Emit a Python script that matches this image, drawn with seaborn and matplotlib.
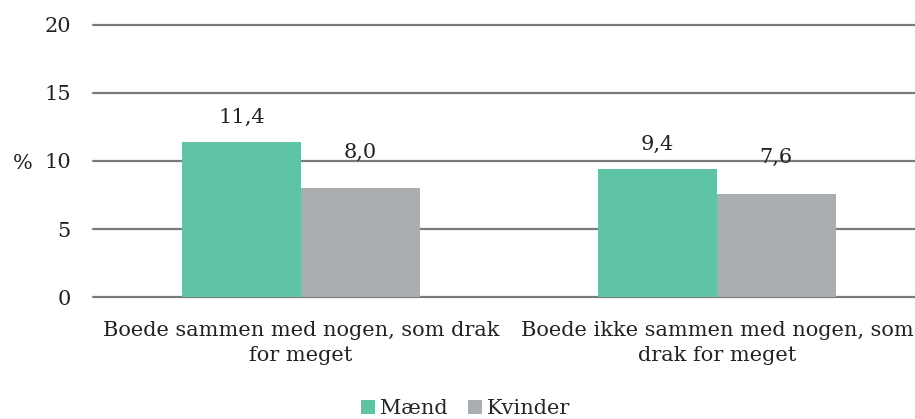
import pandas as pd
import matplotlib.pyplot as plt
import seaborn as sns

categories = ['Boede sammen med nogen, som drak\nfor meget',
              'Boede ikke sammen med nogen, som\ndrak for meget']
maend = [11.4, 9.4]
kvinder = [8.0, 7.6]
series = ['Mænd', 'Kvinder']
colors = ['#5ec4a5', '#abaeb1']

df = pd.DataFrame({
    'kategori': categories * 2,
    'køn': [series[0]] * 2 + [series[1]] * 2,
    'pct': maend + kvinder,
})

sns.set_style('white')
plt.rcParams['font.family'] = ['DejaVu Serif']

fig = plt.figure(figsize=(9.15, 4.19), dpi=100)
ax = fig.add_axes([93 / 915, 122 / 419, 832 / 915, 272 / 419])

sns.barplot(data=df, x='kategori', y='pct', hue='køn', palette=colors,
            width=0.57, gap=0, saturation=1, linewidth=0, ax=ax, zorder=3)

# værdier over søjlerne (Excel-agtig placering)
pads = [11, 19]
for cont, pad in zip(ax.containers, pads):
    ax.bar_label(cont, labels=[f'{v:.1f}'.replace('.', ',') for v in cont.datavalues],
                 padding=pad, fontsize=15, color='#222222')

ax.set_ylim(0, 20)
ax.set_yticks([0, 5, 10, 15, 20])
ax.yaxis.grid(True, color='#7a7a7a', linewidth=1.6, zorder=0)
for gl in ax.get_ygridlines():
    gl.set_clip_on(False)
for s in ax.spines.values():
    s.set_visible(False)
ax.tick_params(axis='both', length=0, labelsize=15, colors='#222222')
ax.tick_params(axis='y', pad=16)
ax.tick_params(axis='x', pad=17)
for t in ax.get_xticklabels():
    t.set_linespacing(1.4)
ax.set_xlabel('')
ax.set_ylabel('%', rotation=0, fontsize=15, color='#222222')
ax.yaxis.set_label_coords(-0.085, 0.455)

ax.legend(loc='lower center', bbox_to_anchor=(0.448, -0.515),
          ncol=2, frameon=False, fontsize=15, handlelength=0.65, handleheight=0.65,
          handletextpad=0.25, columnspacing=1.0)

fig.savefig('out.png', dpi=100)
